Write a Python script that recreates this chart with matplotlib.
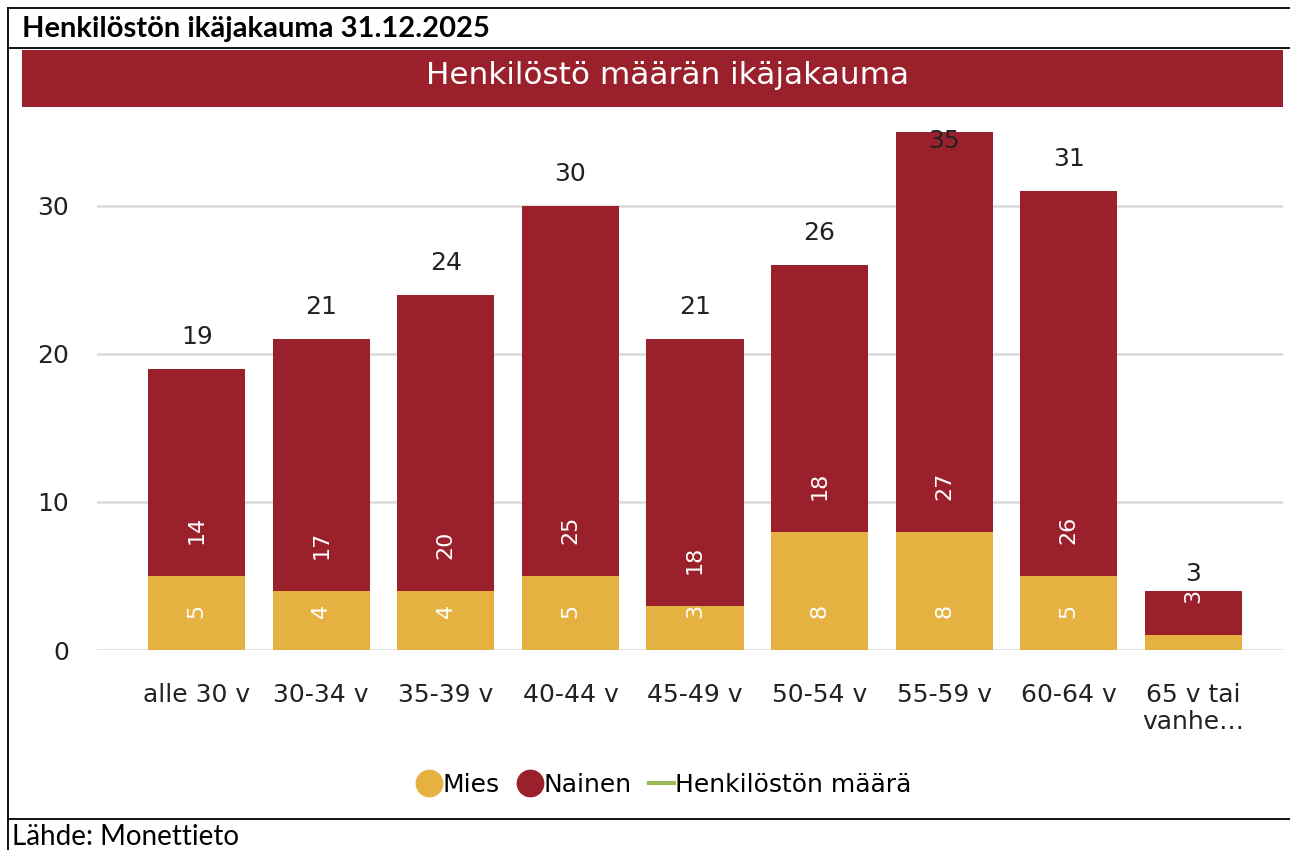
import matplotlib
matplotlib.use("Agg")
import matplotlib.pyplot as plt
from matplotlib.lines import Line2D
from matplotlib.patches import Rectangle
import numpy as np

# data
ryhmat = ["alle 30 v", "30-34 v", "35-39 v", "40-44 v", "45-49 v",
          "50-54 v", "55-59 v", "60-64 v", "65 v tai\nvanhe\u2026"]
mies = [5, 4, 4, 5, 3, 8, 8, 5, 1]
nainen = [14, 17, 20, 25, 18, 18, 27, 26, 3]
yhteensa = [19, 21, 24, 30, 21, 26, 35, 31, 3]
y_ticks = [0, 10, 20, 30]

KELTA = "#E5B140"
PUNA = "#9A212C"
VIHREA = "#9BBB59"

plt.rcParams["font.family"] = ["DejaVu Sans"]

fig = plt.figure(figsize=(12.9, 8.5), dpi=100)
W, H = 1290.0, 850.0

def fx(px):
    return px / W

def fy(py):
    return 1 - py / H

# frame lines around the table cell
for (x0, y0, x1, y1) in [(8, 8, 1290, 8), (8, 8, 8, 850), (8, 48, 1290, 48), (8, 819, 1290, 819)]:
    fig.add_artist(Line2D([fx(x0), fx(x1)], [fy(y0), fy(y1)], color="black", lw=1.3))

fig.text(fx(22), fy(29), "Henkilöstön ikäjakauma 31.12.2025", family="Lato",
         fontweight="bold", fontsize=21, va="center", ha="left")
fig.text(fx(12), fy(837), "Lähde: Monettieto", family="Lato", fontsize=20,
         va="center", ha="left")

# red banner
fig.add_artist(Rectangle((fx(22), fy(107)), fx(1283) - fx(22), fy(50) - fy(107),
                         transform=fig.transFigure, color=PUNA, lw=0))
fig.text(fx(668), fy(76), "Henkilöstö määrän ikäjakauma", color="white",
         fontsize=22.4, ha="center", va="center")

ax = fig.add_axes([fx(97), fy(650), fx(1283) - fx(97), fy(117) - fy(650)])
x = np.arange(len(ryhmat))
ax.bar(x, mies, width=0.78, color=KELTA, label="Mies", zorder=3)
ax.bar(x, nainen, width=0.78, bottom=mies, color=PUNA, label="Nainen", zorder=3)

ax.set_xlim(-0.8, 8.72)
ax.set_ylim(0, 36)
ax.set_yticks(y_ticks)
ax.set_xticks(x)
ax.set_xticklabels(ryhmat, fontsize=18, color="#222222", linespacing=1.15)
ax.tick_params(axis="y", length=0, pad=20, labelsize=18, labelcolor="#222222")
ax.tick_params(axis="x", length=0, pad=24)
for lbl in ax.get_xticklabels():
    lbl.set_va("top")
ax.grid(axis="y", color="#D9D9D9", lw=1.8, zorder=0)
for s in ax.spines.values():
    s.set_visible(False)

# segment labels
for i in range(len(x)):
    if mies[i] >= 2:
        ax.annotate(str(mies[i]), (x[i], 0), xytext=(0, 23), textcoords="offset points",
                    rotation=90, ha="center", va="bottom", color="white", fontsize=16, zorder=4)
    ax.annotate(str(nainen[i]), (x[i], mies[i]), xytext=(0, 23), textcoords="offset points",
                rotation=90, ha="center", va="bottom", color="white", fontsize=16, zorder=4)
    ax.annotate(str(yhteensa[i]), (x[i], min(yhteensa[i], 32.2)), xytext=(0, 23),
                textcoords="offset points", ha="center", va="center",
                fontsize=18, color="#222222", zorder=5, annotation_clip=False)

handles = [
    Line2D([], [], marker="o", ls="none", markersize=19, color=KELTA),
    Line2D([], [], marker="o", ls="none", markersize=19, color=PUNA),
    Line2D([], [], color=VIHREA, lw=3),
]
fig.legend(handles, ["Mies", "Nainen", "Henkilöstön määrä"], loc="center",
           bbox_to_anchor=(fx(664), fy(785)), ncol=3, frameon=False, fontsize=18,
           handlelength=1.0, handletextpad=0.05, columnspacing=0.7)

fig.savefig("out.png", dpi=100)
